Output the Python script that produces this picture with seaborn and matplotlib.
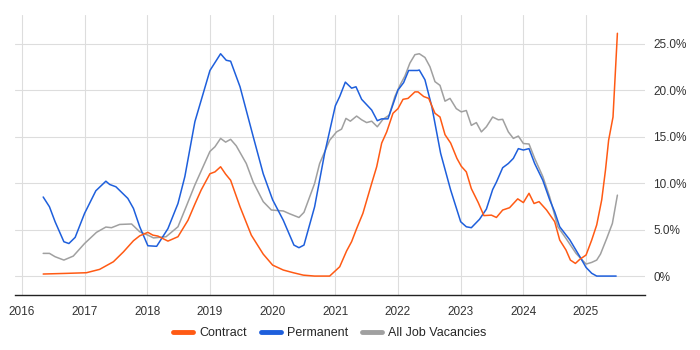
import numpy as np
import pandas as pd
import seaborn as sns
import matplotlib.pyplot as plt
from matplotlib.ticker import FuncFormatter

# Contract rate (% share), x as decimal year
contract_x = [2016.34, 2016.71, 2017.03, 2017.24, 2017.46, 2017.62, 2017.78, 2017.88, 2018.01, 2018.09,
              2018.17, 2018.33, 2018.49, 2018.65, 2018.76, 2018.86, 2019.0, 2019.08, 2019.17, 2019.25,
              2019.33, 2019.48, 2019.66, 2019.85, 2020.0, 2020.17, 2020.33, 2020.49, 2020.67, 2020.91,
              2021.07, 2021.18, 2021.26, 2021.34, 2021.44, 2021.58, 2021.66, 2021.74, 2021.82, 2021.92,
              2022.0, 2022.08, 2022.16, 2022.27, 2022.32, 2022.41, 2022.49, 2022.59, 2022.67, 2022.75,
              2022.84, 2022.94, 2023.01, 2023.09, 2023.17, 2023.28, 2023.37, 2023.49, 2023.57, 2023.67,
              2023.78, 2023.91, 2024.0, 2024.09, 2024.17, 2024.25, 2024.37, 2024.5, 2024.58, 2024.68,
              2024.75, 2024.83, 2024.9, 2025.0, 2025.09, 2025.17, 2025.25, 2025.31, 2025.36, 2025.43,
              2025.5]
contract_y = [0.22, 0.29, 0.36, 0.72, 1.54, 2.6, 3.8, 4.33, 4.7, 4.4,
              4.3, 3.76, 4.23, 6.0, 7.74, 9.25, 11.0, 11.2, 11.75, 10.96,
              10.3, 7.45, 4.4, 2.36, 1.18, 0.65, 0.36, 0.1, 0.0, 0.0,
              1.0, 2.7, 3.7, 5.1, 6.74, 9.96, 11.75, 14.3, 15.5, 17.5,
              18.0, 19.0, 19.1, 19.8, 19.8, 19.3, 19.1, 17.5, 17.1, 15.2,
              14.3, 12.65, 11.8, 11.2, 9.4, 7.9, 6.5, 6.55, 6.3, 7.1,
              7.35, 8.3, 7.9, 8.9, 7.8, 8.0, 7.1, 5.84, 3.87, 2.8,
              1.72, 1.36, 1.8, 2.26, 3.87, 5.5, 8.2, 11.4, 14.6, 17.1,
              26.1]

# Permanent
perm_x = [2016.34, 2016.44, 2016.53, 2016.67, 2016.75, 2016.85, 2017.0, 2017.18, 2017.34, 2017.40,
          2017.5, 2017.69, 2017.78, 2017.88, 2018.01, 2018.15, 2018.33, 2018.49, 2018.6, 2018.76,
          2019.0, 2019.17, 2019.26, 2019.33, 2019.48, 2019.69, 2019.85, 2020.0, 2020.17, 2020.34,
          2020.42, 2020.5, 2020.67, 2020.83, 2021.0, 2021.07, 2021.16, 2021.26, 2021.33, 2021.42,
          2021.58, 2021.67, 2021.74, 2021.84, 2022.0, 2022.09, 2022.17, 2022.31, 2022.34, 2022.43,
          2022.54, 2022.68, 2022.84, 2023.0, 2023.09, 2023.17, 2023.3, 2023.41, 2023.51, 2023.57,
          2023.67, 2023.76, 2023.84, 2023.92, 2024.0, 2024.09, 2024.18, 2024.31, 2024.42, 2024.5,
          2024.58, 2024.74, 2024.9, 2025.0, 2025.09, 2025.17, 2025.48]
perm_y = [8.5, 7.45, 5.84, 3.69, 3.5, 4.16, 6.74, 9.17, 10.2, 9.85,
          9.6, 8.35, 7.27, 5.3, 3.26, 3.2, 5.1, 7.8, 10.7, 16.6,
          22.1, 23.9, 23.2, 23.1, 20.35, 15.0, 11.0, 8.2, 6.0, 3.33,
          3.05, 3.33, 7.45, 13.2, 18.3, 19.3, 20.85, 20.2, 20.35, 19.0,
          17.85, 16.7, 16.9, 16.9, 20.0, 20.8, 22.1, 22.1, 22.15, 21.1,
          18.2, 13.2, 9.25, 5.84, 5.3, 5.2, 6.1, 7.2, 9.3, 10.1,
          11.65, 12.1, 12.65, 13.7, 13.55, 13.7, 12.1, 10.3, 8.2, 6.9,
          5.3, 3.9, 2.1, 0.93, 0.3, 0.0, 0.0]

# All job vacancies
all_x = [2016.34, 2016.44, 2016.53, 2016.67, 2016.82, 2017.0, 2017.19, 2017.34, 2017.43, 2017.56,
         2017.75, 2017.88, 2018.01, 2018.10, 2018.3, 2018.49, 2018.62, 2018.76, 2019.0, 2019.08,
         2019.17, 2019.25, 2019.33, 2019.42, 2019.58, 2019.69, 2019.85, 2019.98, 2020.17, 2020.27,
         2020.42, 2020.5, 2020.67, 2020.75, 2020.91, 2021.02, 2021.1, 2021.17, 2021.24, 2021.34,
         2021.42, 2021.5, 2021.58, 2021.67, 2021.76, 2021.86, 2021.95, 2022.03, 2022.11, 2022.19,
         2022.27, 2022.34, 2022.43, 2022.51, 2022.59, 2022.67, 2022.75, 2022.83, 2022.93, 2023.01,
         2023.09, 2023.17, 2023.25, 2023.33, 2023.41, 2023.51, 2023.6, 2023.67, 2023.76, 2023.84,
         2023.92, 2024.0, 2024.09, 2024.18, 2024.31, 2024.42, 2024.55, 2024.68, 2024.84, 2025.0,
         2025.09, 2025.17, 2025.23, 2025.33, 2025.42, 2025.5]
all_y = [2.44, 2.44, 2.08, 1.72, 2.15, 3.5, 4.7, 5.27, 5.2, 5.55,
         5.6, 4.76, 4.4, 4.1, 4.23, 5.3, 7.45, 9.8, 13.4, 13.9,
         14.8, 14.4, 14.7, 14.0, 12.1, 10.1, 8.0, 7.1, 7.0, 6.7,
         6.3, 6.85, 9.96, 12.1, 14.6, 15.5, 15.8, 16.95, 16.65, 17.2,
         16.8, 16.5, 16.65, 16.05, 16.85, 17.3, 19.3, 20.5, 21.5, 22.9,
         23.8, 23.9, 23.5, 22.5, 20.9, 20.5, 18.8, 19.1, 18.0, 17.65,
         17.8, 16.2, 16.5, 15.5, 16.05, 17.1, 16.8, 16.85, 15.5, 14.8,
         15.05, 14.25, 14.2, 12.65, 10.7, 8.5, 5.3, 4.05, 2.44, 1.29,
         1.47, 1.72, 2.36, 4.05, 5.66, 8.7]

df = pd.concat([
    pd.DataFrame({"year": contract_x, "pct": contract_y, "series": "Contract"}),
    pd.DataFrame({"year": perm_x, "pct": perm_y, "series": "Permanent"}),
    pd.DataFrame({"year": all_x, "pct": all_y, "series": "All Job Vacancies"}),
])

colors = {"Contract": "#FF5A14", "Permanent": "#1E5FDC", "All Job Vacancies": "#A0A0A0"}

sns.set_style("white")
plt.rcParams['font.family'] = ['Liberation Sans', 'DejaVu Sans']

fig = plt.figure(figsize=(7, 3.5), dpi=100)
ax = fig.add_axes([0.0214, 0.157, 0.9, 0.8])

# draw grey first so it sits underneath
for name in ["All Job Vacancies", "Permanent", "Contract"]:
    sub = df[df["series"] == name]
    sns.lineplot(data=sub, x="year", y="pct", ax=ax, color=colors[name],
                 linewidth=1.1, label=name, sort=False, estimator=None)

ax.set_xlim(2015.89, 2025.94)
ax.set_ylim(-2.04, 28.06)
ax.set_xticks(range(2016, 2026))
ax.set_xticklabels([str(y) for y in range(2016, 2026)])
ax.set_yticks([0, 5, 10, 15, 20, 25])
ax.yaxis.set_major_formatter(FuncFormatter(lambda v, p: "0%" if v == 0 else f"{v:.1f}%"))
ax.yaxis.tick_right()

ax.grid(True, color="#DDDDDD", linewidth=0.8)
for s in ["top", "left", "right"]:
    ax.spines[s].set_visible(False)
ax.spines["bottom"].set_color("#222222")
ax.spines["bottom"].set_linewidth(1.0)
ax.tick_params(axis="x", length=5, color="#222222", labelsize=8.5, pad=3, labelcolor="#333333")
ax.tick_params(axis="y", length=0, labelsize=8.5, pad=6, labelcolor="#333333")
ax.set_xlabel("")
ax.set_ylabel("")

handles, labels = ax.get_legend_handles_labels()
order = [labels.index(n) for n in ["Contract", "Permanent", "All Job Vacancies"]]
leg = ax.legend([handles[i] for i in order], [labels[i] for i in order],
                loc="center", bbox_to_anchor=(0.5, -0.136), ncol=3, frameon=False,
                fontsize=9, handlelength=1.6, handletextpad=0.5, columnspacing=1.1)
for h in leg.get_lines():
    h.set_linewidth(3.5)

fig.savefig("out.png", dpi=100)
